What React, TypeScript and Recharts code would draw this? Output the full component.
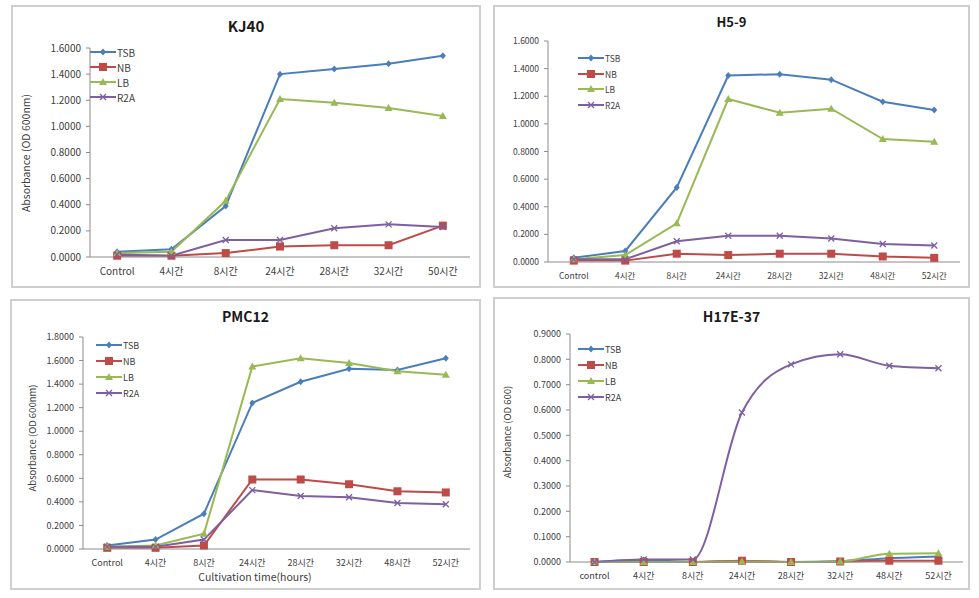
import React from 'react';
import { LineChart, Line, XAxis, YAxis } from 'recharts';

const kjCategories = ['Control', '4시간', '8시간', '24시간', '28시간', '32시간', '50시간'];
const kjTSB = [0.04, 0.06, 0.39, 1.4, 1.44, 1.48, 1.54];
const kjNB = [0.01, 0.01, 0.03, 0.08, 0.09, 0.09, 0.24];
const kjLB = [0.03, 0.04, 0.43, 1.21, 1.18, 1.14, 1.08];
const kjR2A = [0.02, 0.01, 0.13, 0.13, 0.22, 0.25, 0.23];

const h59Categories = ['Control', '4시간', '8시간', '24시간', '28시간', '32시간', '48시간', '52시간'];
const h59TSB = [0.03, 0.08, 0.54, 1.35, 1.36, 1.32, 1.16, 1.1];
const h59NB = [0.01, 0.01, 0.06, 0.05, 0.06, 0.06, 0.04, 0.03];
const h59LB = [0.02, 0.05, 0.28, 1.18, 1.08, 1.11, 0.89, 0.87];
const h59R2A = [0.02, 0.02, 0.15, 0.19, 0.19, 0.17, 0.13, 0.12];

const pmcCategories = ['Control', '4시간', '8시간', '24시간', '28시간', '32시간', '48시간', '52시간'];
const pmcTSB = [0.03, 0.08, 0.3, 1.24, 1.42, 1.53, 1.52, 1.62];
const pmcNB = [0.01, 0.01, 0.03, 0.59, 0.59, 0.55, 0.49, 0.48];
const pmcLB = [0.02, 0.03, 0.13, 1.55, 1.62, 1.58, 1.51, 1.48];
const pmcR2A = [0.02, 0.02, 0.08, 0.5, 0.45, 0.44, 0.39, 0.38];

const h17Categories = ['control', '4시간', '8시간', '24시간', '28시간', '32시간', '48시간', '52시간'];
const h17TSB = [0.0, 0.008, 0.0, 0.002, 0.0, 0.003, 0.015, 0.022];
const h17NB = [0.0, 0.0, 0.0, 0.005, 0.0, 0.002, 0.005, 0.005];
const h17LB = [0.0, 0.0, 0.0, 0.002, 0.0, 0.002, 0.033, 0.035];
const h17R2A = [0.0, 0.01, 0.01, 0.59, 0.78, 0.82, 0.775, 0.765];

const ticks16 = [0, 0.2, 0.4, 0.6, 0.8, 1.0, 1.2, 1.4, 1.6];
const ticks18 = [0, 0.2, 0.4, 0.6, 0.8, 1.0, 1.2, 1.4, 1.6, 1.8];
const ticks09 = [0, 0.1, 0.2, 0.3, 0.4, 0.5, 0.6, 0.7, 0.8, 0.9];

const SERIES = [
  { key: 'TSB', color: '#4a7ebb', shape: 'diamond' },
  { key: 'NB', color: '#be4b48', shape: 'square' },
  { key: 'LB', color: '#98b954', shape: 'triangle' },
  { key: 'R2A', color: '#7d60a0', shape: 'x' },
];

const FONT = '"Noto Sans CJK KR", "Noto Sans", sans-serif';
const AXIS = '#8c8c8c';

function Marker({ cx, cy, shape, color }: { cx: number; cy: number; shape: string; color: string }) {
  if (shape === 'diamond')
    return <path d={`M${cx},${cy - 3.5}L${cx + 3},${cy}L${cx},${cy + 3.5}L${cx - 3},${cy}Z`} fill={color} />;
  if (shape === 'square') return <rect x={cx - 4} y={cy - 4} width={8} height={8} fill={color} />;
  if (shape === 'triangle')
    return <path d={`M${cx},${cy - 4}L${cx + 4},${cy + 3}L${cx - 4},${cy + 3}Z`} fill={color} />;
  return (
    <path
      d={`M${cx - 3},${cy - 3}L${cx + 3},${cy + 3}M${cx - 3},${cy + 3}L${cx + 3},${cy - 3}`}
      stroke={color}
      strokeWidth={1.3}
      fill="none"
    />
  );
}

const makeDot = (shape: string, color: string) => (props: any) => {
  const { cx, cy, index } = props;
  if (cx == null || cy == null) return <g key={index} />;
  return (
    <g key={index}>
      <Marker cx={cx} cy={cy} shape={shape} color={color} />
    </g>
  );
};

interface PanelProps {
  title: string;
  titleSize: number;
  fontSize: number;
  box: [number, number, number, number];
  plot: [number, number, number, number];
  categories: string[];
  values: number[][];
  ticks: number[];
  curve: 'linear' | 'monotone';
  legend: [number, number, number];
  yLabel?: [string, number, number];
  xLabel?: [string, number, number];
  titleY: number;
}

function Panel(p: PanelProps) {
  const [bx, by, bw, bh] = p.box;
  const [axisX, topY, rightX, bottomY] = p.plot;
  const half = (rightX - axisX) / p.categories.length / 2;
  const data = p.categories.map((c, i) => ({
    name: c,
    TSB: p.values[0][i],
    NB: p.values[1][i],
    LB: p.values[2][i],
    R2A: p.values[3][i],
  }));
  const tickStyle = { fill: '#404040', fontSize: p.fontSize, fontFamily: FONT };
  return (
    <>
      <div
        style={{
          position: 'absolute',
          left: bx,
          top: by,
          width: bw,
          height: bh,
          border: '2px solid #cfcfcf',
          boxSizing: 'border-box',
        }}
      />
      <div style={{ position: 'absolute', left: bx, top: by }}>
        <LineChart
          width={bw}
          height={bh}
          data={data}
          margin={{ top: topY - by, right: bx + bw - rightX, left: 0, bottom: 0 }}
        >
          <XAxis
            dataKey="name"
            height={by + bh - bottomY}
            padding={{ left: half, right: half }}
            tick={tickStyle}
            tickLine={false}
            tickSize={0}
            tickMargin={11}
            axisLine={{ stroke: AXIS }}
            interval={0}
          />
          <YAxis
            width={axisX - bx}
            domain={[0, p.ticks[p.ticks.length - 1]]}
            ticks={p.ticks}
            tickFormatter={(v: number) => v.toFixed(4)}
            tick={tickStyle}
            tickSize={4}
            tickMargin={5}
            tickLine={{ stroke: AXIS }}
            axisLine={{ stroke: AXIS }}
          />
          {SERIES.map((s) => (
            <Line
              key={s.key}
              type={p.curve}
              dataKey={s.key}
              stroke={s.color}
              strokeWidth={2}
              dot={makeDot(s.shape, s.color)}
              activeDot={false}
              isAnimationActive={false}
            />
          ))}
        </LineChart>
      </div>
      <div
        style={{
          position: 'absolute',
          left: bx,
          width: bw,
          top: p.titleY - p.titleSize * 0.7,
          textAlign: 'center',
          fontFamily: FONT,
          fontWeight: 'bold',
          fontSize: p.titleSize,
          color: '#1a1a1a',
          lineHeight: 1.4 + '',
        }}
      >
        {p.title}
      </div>
      {SERIES.map((s, i) => (
        <div
          key={s.key}
          style={{
            position: 'absolute',
            left: p.legend[0],
            top: p.legend[1] + i * p.legend[2] - 6,
            height: 12,
            display: 'flex',
            alignItems: 'center',
            fontFamily: FONT,
            fontSize: p.fontSize,
            color: '#404040',
          }}
        >
          <svg width={26} height={12}>
            <line x1={0} y1={6} x2={26} y2={6} stroke={s.color} strokeWidth={2} />
            <Marker cx={13} cy={6} shape={s.shape} color={s.color} />
          </svg>
          <span style={{ marginLeft: 1 }}>{s.key}</span>
        </div>
      ))}
      {p.yLabel && (
        <div
          style={{
            position: 'absolute',
            left: p.yLabel[1] - 100,
            top: p.yLabel[2] - 7,
            width: 200,
            height: 14,
            textAlign: 'center',
            transform: 'rotate(-90deg)',
            fontFamily: FONT,
            fontSize: p.fontSize + 0.5,
            color: '#404040',
            lineHeight: '14px',
          }}
        >
          {p.yLabel[0]}
        </div>
      )}
      {p.xLabel && (
        <div
          style={{
            position: 'absolute',
            left: p.xLabel[1] - 150,
            top: p.xLabel[2] - 7,
            width: 300,
            textAlign: 'center',
            fontFamily: FONT,
            fontSize: 10.5,
            color: '#404040',
            lineHeight: '14px',
          }}
        >
          {p.xLabel[0]}
        </div>
      )}
    </>
  );
}

export default function App() {
  return (
    <div style={{ position: 'absolute', left: 0, top: 0, width: 979, height: 598, background: '#fff' }}>
      <Panel
        title="KJ40"
        titleSize={15}
        fontSize={10}
        titleY={25}
        box={[11, 5, 470, 283]}
        plot={[90, 48, 470, 257]}
        categories={kjCategories}
        values={[kjTSB, kjNB, kjLB, kjR2A]}
        ticks={ticks16}
        curve="linear"
        legend={[90, 52, 15]}
        yLabel={['Absorbance (OD 600nm)', 26, 153]}
      />
      <Panel
        title="H5-9"
        titleSize={13}
        fontSize={8.5}
        titleY={22}
        box={[493, 5, 477, 283]}
        plot={[548, 41, 960, 262]}
        categories={h59Categories}
        values={[h59TSB, h59NB, h59LB, h59R2A]}
        ticks={ticks16}
        curve="linear"
        legend={[578, 58, 15.5]}
      />
      <Panel
        title="PMC12"
        titleSize={14}
        fontSize={9}
        titleY={317}
        box={[10, 299, 471, 291]}
        plot={[83, 337, 470, 549]}
        categories={pmcCategories}
        values={[pmcTSB, pmcNB, pmcLB, pmcR2A]}
        ticks={ticks18}
        curve="linear"
        legend={[96, 345, 16]}
        yLabel={['Absorbance (OD 600nm)', 32, 438]}
        xLabel={['Cultivation time(hours)', 255, 577]}
      />
      <Panel
        title="H17E-37"
        titleSize={14}
        fontSize={9}
        titleY={317}
        box={[493, 297, 477, 293]}
        plot={[570, 334, 963, 562]}
        categories={h17Categories}
        values={[h17TSB, h17NB, h17LB, h17R2A]}
        ticks={ticks09}
        curve="monotone"
        legend={[578, 349, 16]}
        yLabel={['Absorbance (OD 600)', 507, 432]}
      />
    </div>
  );
}
